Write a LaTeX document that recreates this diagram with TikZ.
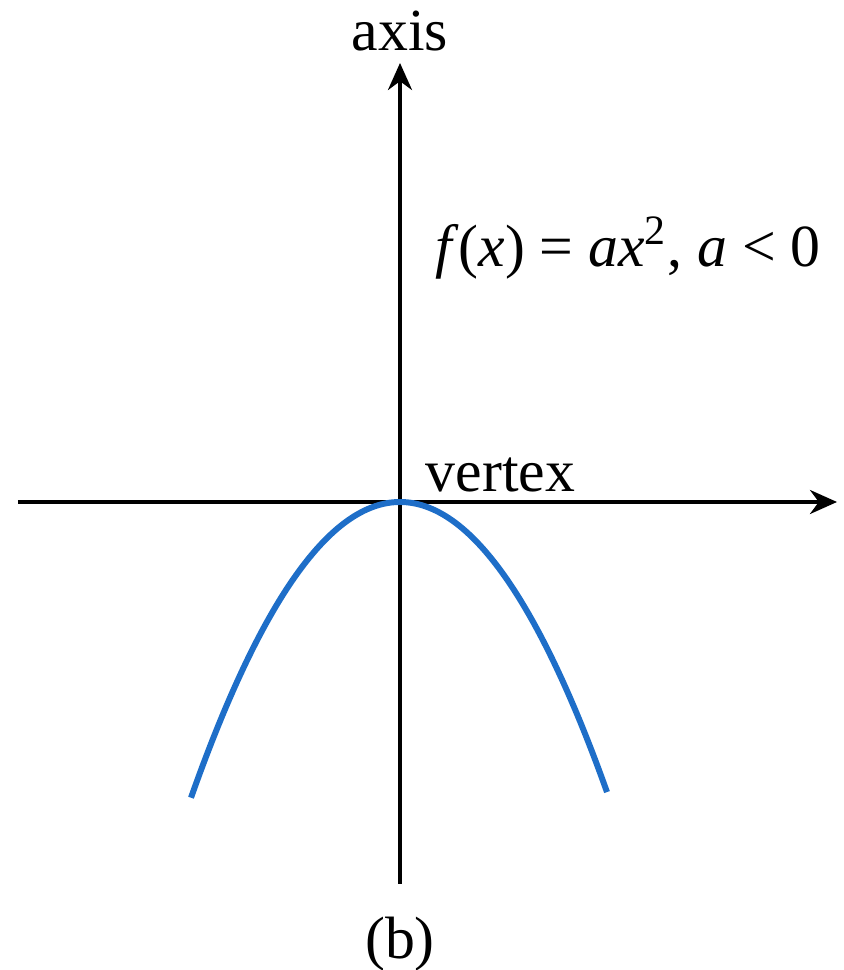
\documentclass[tikz,border=0pt]{standalone}
\usepackage{fontspec}
\setmainfont{Liberation Serif}
\usetikzlibrary{arrows.meta}
\definecolor{curveblue}{RGB}{30,110,200}

\begin{document}
\begin{tikzpicture}[>={Stealth[length=2.7mm, width=2.4mm]}, scale=1.0,
  axisline/.style={->, line width=1.05pt},
  lbl/.style={font=\fontsize{17}{20}\selectfont, inner sep=0pt}]
\useasboundingbox (0,0) rectangle (8.44,9.70);
% axes
\coordinate (O)  at (4.00,4.68);
\coordinate (xl) at (0.18,4.68);
\coordinate (xr) at (8.37,4.68);
\coordinate (yb) at (4.00,0.86);
\coordinate (yt) at (4.00,9.07);
\draw[axisline] (xl) -- (xr);
\draw[axisline] (yb) -- (yt);
% parabola
\draw[curveblue, line width=1.7pt, line cap=butt]
   plot[domain=-2.09:2.07, samples=80, smooth] ({4.00+\x},{4.68-0.677*\x*\x});
% labels
\node[lbl, above] (axislbl) at (4.00,9.18) {axis};
\node[lbl, anchor=base west] (vertexlbl) at (4.25,4.78) {vertex};
\node[lbl, anchor=base] (fxlbl) at (6.28,4.68+2.35) {\textit{f}(\textit{x}) = \textit{ax}\textsuperscript{2}, \textit{a} < 0};
\node[lbl, anchor=base] (blbl) at (4.00,0.12) {(b)};
\end{tikzpicture}
\end{document}
